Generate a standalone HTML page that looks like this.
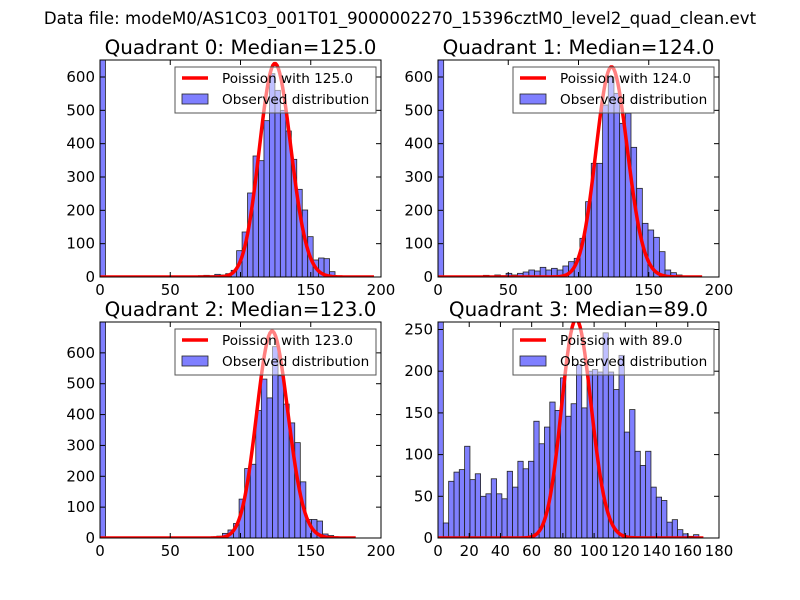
<!DOCTYPE html>
<html><head><meta charset="utf-8"><style>
body{margin:0;background:#fff}
svg{display:block;font-family:"DejaVu Sans","Liberation Sans",sans-serif}
</style></head><body>
<svg id="fig" width="800" height="600">
<text x="400" y="24" text-anchor="middle" font-size="16.6">Data file: modeM0/AS1C03_001T01_9000002270_15396cztM0_level2_quad_clean.evt</text>
</svg>
<script>
const medians = [125, 124, 123, 89];
const binWidths = [3.89, 4.04, 3.96, 3.41];
const counts0 = [1000,0,0,0,0,0,0,0,0,0,0,0,0,0,0,0,0,3,4,5,4,8,6,10,20,79,135,252,363,349,469,610,560,500,438,353,263,201,121,51,57,55,16,2,0,0,0,0,0,0];
const counts1 = [1000,0,0,0,0,0,0,2,5,3,6,4,11,6,11,15,21,18,29,21,26,21,33,46,56,116,226,341,341,516,600,551,461,491,389,266,161,141,119,76,21,13,6,0,0,0,0,0,0,0];
const counts2 = [1000,0,0,0,0,0,0,0,0,0,0,0,0,0,0,0,0,2,3,3,4,6,15,26,47,126,225,239,413,515,454,620,526,434,373,309,182,60,60,55,13,8,4,2,0,0,0,0,0,0];
const counts3 = [270,18,68,79,82,110,70,77,50,53,71,53,47,80,61,92,83,92,140,113,133,163,153,192,146,161,208,156,200,202,199,246,199,178,219,127,154,104,87,104,61,49,45,19,22,10,5,2,4,0];
const curvePeaks = [640, 630, 670, 262];
const xMaxes = [200, 200, 200, 180];
const xTicks = [[0,50,100,150,200],[0,50,100,150,200],[0,50,100,150,200],[0,20,40,60,80,100,120,140,160,180]];
const yMaxes = [651, 651, 700, 259];
const yTicks = [[0,100,200,300,400,500,600],[0,100,200,300,400,500,600],[0,100,200,300,400,500,600],[0,50,100,150,200,250]];
const curveEnds = [195, 188, 182, 170];

const NS = "http://www.w3.org/2000/svg";
const fig = document.getElementById('fig');
function mk(tag, attrs, parent){const e=document.createElementNS(NS,tag);for(const k in attrs)e.setAttribute(k,attrs[k]);(parent||fig).appendChild(e);return e;}
const allCounts=[counts0,counts1,counts2,counts3];
const boxes=[[100,60,281,217],[438,60,281,217],[100,322,281,216],[438,322,281,216]];
function lnFact(k){let s=0;for(let i=2;i<=k;i++)s+=Math.log(i);return s;}

for(let q=0;q<4;q++){
  const [L,T,W,H]=boxes[q];
  const xs=v=>L+v/xMaxes[q]*W, ys=v=>T+H-v/yMaxes[q]*H;
  const g=mk('g',{});
  
  
  const cp=mk('clipPath',{id:'c'+q},g);
  mk('rect',{x:L,y:T,width:W,height:H},cp);
  const pg=mk('g',{'clip-path':'url(#c'+q+')'},g);
  allCounts[q].forEach((c,i)=>{
    if(c<=0)return;
    const x0=xs(i*binWidths[q]),x1=xs((i+1)*binWidths[q]);
    const r=mk('rect',{x:x0,y:ys(c),width:x1-x0,height:ys(0)-ys(c),fill:'rgba(0,0,255,0.5)',stroke:'#222','stroke-width':0.8},pg);
    
    
  });
  const lam=medians[q];const pmax=Math.exp(Math.floor(lam)*Math.log(lam)-lam-lnFact(Math.floor(lam)));
  let d='';
  for(let k=0;k<=curveEnds[q];k++){const p=Math.exp(k*Math.log(lam)-lam-lnFact(k))/pmax*curvePeaks[q];d+=(k?'L':'M')+xs(k).toFixed(2)+','+ys(p).toFixed(2);}
  const cv=mk('path',{d:d,fill:'none',stroke:'#f00','stroke-width':3.5,'stroke-linejoin':'round'},pg);
  
  
  mk('rect',{x:L,y:T,width:W,height:H,fill:'none',stroke:'#000','stroke-width':1},g);
  xTicks[q].forEach(t=>{const x=xs(t);
    mk('line',{x1:x,x2:x,y1:T+H,y2:T+H-5,stroke:'#000'},g);mk('line',{x1:x,x2:x,y1:T,y2:T+5,stroke:'#000'},g);
    const tx=mk('text',{x:x,y:T+H+18,'text-anchor':'middle','font-size':15},g);tx.textContent=t;
    
    });
  yTicks[q].forEach(t=>{const y=ys(t);
    mk('line',{x1:L,x2:L+5,y1:y,y2:y,stroke:'#000'},g);mk('line',{x1:L+W,x2:L+W-5,y1:y,y2:y,stroke:'#000'},g);
    const tx=mk('text',{x:L-5,y:y+5,'text-anchor':'end','font-size':15},g);tx.textContent=t;
    
    });
  const ti=mk('text',{x:L+W/2,y:T-6,'text-anchor':'middle','font-size':19.9},g);
  ti.textContent='Quadrant '+q+': Median='+medians[q].toFixed(1);
  
  
  const lg=mk('g',{},g);
  
  
  const lx=L+W-206,ly=T+7;
  mk('rect',{x:lx,y:ly,width:201,height:46,fill:'rgba(255,255,255,0.5)',stroke:'#555','stroke-width':1},lg);
  mk('line',{x1:lx+7,x2:lx+33,y1:ly+11,y2:ly+11,stroke:'#f00','stroke-width':3.5},lg);
  const t1=mk('text',{x:lx+47,y:ly+16,'font-size':13.6},lg);t1.textContent='Poission with '+medians[q].toFixed(1);
  
  
  mk('rect',{x:lx+7,y:ly+27,width:26,height:10,fill:'rgba(0,0,255,0.5)',stroke:'#222','stroke-width':0.8},lg);
  const t2=mk('text',{x:lx+47,y:ly+37,'font-size':13.6},lg);t2.textContent='Observed distribution';
  
  
}
</script>
</body></html>
